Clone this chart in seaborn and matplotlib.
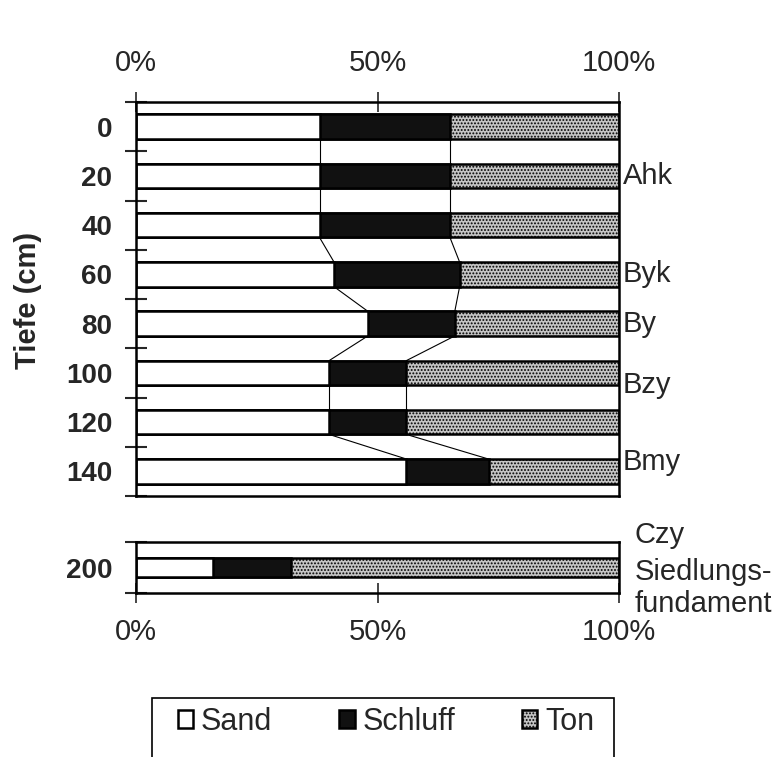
import matplotlib
matplotlib.use("Agg")
import matplotlib.pyplot as plt
import matplotlib.patches as mpatches
from matplotlib.ticker import FixedLocator
import seaborn as sns
import pandas as pd

# ---- data ----
depth = [0, 20, 40, 60, 80, 100, 120, 140]
sand = [38, 38, 38, 41, 48, 40, 40, 56]
schluff = [27, 27, 27, 26, 18, 16, 16, 17]
ton = [35, 35, 35, 33, 34, 44, 44, 27]

depth_low = [200]
sand_low = [16]
schluff_low = [16]
ton_low = [68]

horizon_labels = ["Ahk", "Byk", "By", "Bzy", "Bmy"]
horizon_depths = [20, 60, 80, 105, 136]
lower_labels = ["Czy", "Siedlungs-", "fundament"]

x_ticks = [0, 50, 100]
x_ticklabels = ["0%", "50%", "100%"]
legend_labels = ["Sand", "Schluff", "Ton"]

# ---- style ----
sns.set_style("white")
plt.rcParams["font.family"] = ["Liberation Sans", "DejaVu Sans"]
plt.rcParams["hatch.linewidth"] = 0.9
plt.rcParams["hatch.color"] = "black"

SAND_C = "white"
SCHLUFF_C = "#111111"
TON_C = "#c4c4c4"
TON_HATCH = "....."
EDGE_LW = 1.8
FS = 21

W, H = 779, 757
fig = plt.figure(figsize=(W / 100, H / 100), dpi=100)

def fx(px):
    return px / W

def fy(py):
    return 1 - py / H

ax = fig.add_axes([fx(136), fy(496), fx(619) - fx(136), fy(102) - fy(496)])
ax2 = fig.add_axes([fx(136), fy(593), fx(619) - fx(136), fy(542) - fy(593)])

def draw_stack(axis, dep, sa, sc, to, width):
    df = pd.DataFrame({"Tiefe": dep, "Sand": sa, "Schluff": sc, "Ton": to})
    df["cum2"] = df["Sand"] + df["Schluff"]
    df["total"] = df["cum2"] + df["Ton"]
    common = dict(data=df, y="Tiefe", orient="h", native_scale=True,
                  errorbar=None, saturation=1, edgecolor="black",
                  linewidth=EDGE_LW, width=width, ax=axis)
    sns.barplot(x="total", color=TON_C, hatch=TON_HATCH, **common)
    sns.barplot(x="cum2", color=SCHLUFF_C, **common)
    sns.barplot(x="Sand", color=SAND_C, **common)
    return df

df = draw_stack(ax, depth, sand, schluff, ton, 0.5)
draw_stack(ax2, depth_low, sand_low, schluff_low, ton_low, 0.8)

# connecting lines between consecutive bars
half = 5
for col in ["Sand", "cum2"]:
    vals = df[col].tolist()
    for i in range(len(vals) - 1):
        ax.plot([vals[i], vals[i + 1]],
                [depth[i] + half, depth[i + 1] - half],
                color="black", lw=0.8, zorder=5)

# ---- upper axis ----
ax.set_xlim(0, 100)
ax.set_ylim(150, -10)
ax.set_xlabel("")
ax.set_ylabel("")
ax.xaxis.tick_top()
ax.set_xticks(x_ticks)
ax.set_xticklabels(x_ticklabels, fontsize=FS)
ax.tick_params(axis="x", direction="inout", length=14, width=1.2, pad=11,
               top=True, bottom=False)
ax.set_yticks(depth)
ax.set_yticklabels([str(d) for d in depth], fontsize=20, fontweight="bold")
ax.yaxis.set_minor_locator(FixedLocator(list(range(-10, 151, 20))))
ax.tick_params(axis="y", which="major", length=0, pad=17, left=True)
ax.tick_params(axis="y", which="minor", direction="inout", length=16,
               width=1.5, left=True)
for sp in ax.spines.values():
    sp.set_linewidth(1.8)
    sp.set_color("black")

for lab, d in zip(horizon_labels, horizon_depths):
    ax.text(1.008, d, lab, transform=ax.get_yaxis_transform(),
            fontsize=21, va="center", ha="left")

# ---- lower axis ----
ax2.set_xlim(0, 100)
ax2.set_ylim(201.05, 198.95)
ax2.set_xlabel("")
ax2.set_ylabel("")
ax2.set_xticks(x_ticks)
ax2.set_xticklabels(x_ticklabels, fontsize=FS)
ax2.tick_params(axis="x", direction="inout", length=14, width=1.2, pad=11,
                bottom=True, top=False)
ax2.set_yticks(depth_low)
ax2.set_yticklabels([str(d) for d in depth_low], fontsize=20,
                    fontweight="bold")
ax2.yaxis.set_minor_locator(FixedLocator([198.95, 201.05]))
ax2.tick_params(axis="y", which="major", length=0, pad=17, left=True)
ax2.tick_params(axis="y", which="minor", direction="inout", length=16,
                width=1.5, left=True)
for sp in ax2.spines.values():
    sp.set_linewidth(1.8)
    sp.set_color("black")

for lab, py in zip(lower_labels, [535, 572, 604]):
    fig.text(fx(635), fy(py), lab, fontsize=21, va="center", ha="left")

# y label
fig.text(fx(28), fy(300), "Tiefe (cm)", rotation=90, fontsize=21,
         fontweight="bold", ha="center", va="center")

# ---- legend ----
handles = [
    mpatches.Patch(facecolor=SAND_C, edgecolor="black", linewidth=1.8),
    mpatches.Patch(facecolor=SCHLUFF_C, edgecolor="black", linewidth=1.8),
    mpatches.Patch(facecolor=TON_C, edgecolor="black", linewidth=1.8,
                   hatch=TON_HATCH),
]
fig.legend(handles, legend_labels, ncol=3, loc="center",
           bbox_to_anchor=(fx(386), fy(722)), frameon=False, fontsize=22,
           handlelength=0.5, handleheight=0.5, handletextpad=0.25,
           columnspacing=2.2)
frame = mpatches.Rectangle((fx(152), fy(790)), fx(614) - fx(152),
                           fy(698) - fy(790), transform=fig.transFigure,
                           facecolor="none", edgecolor="black", lw=1.2,
                           clip_on=False)
fig.patches.append(frame)

fig.savefig("out.png", dpi=100)
